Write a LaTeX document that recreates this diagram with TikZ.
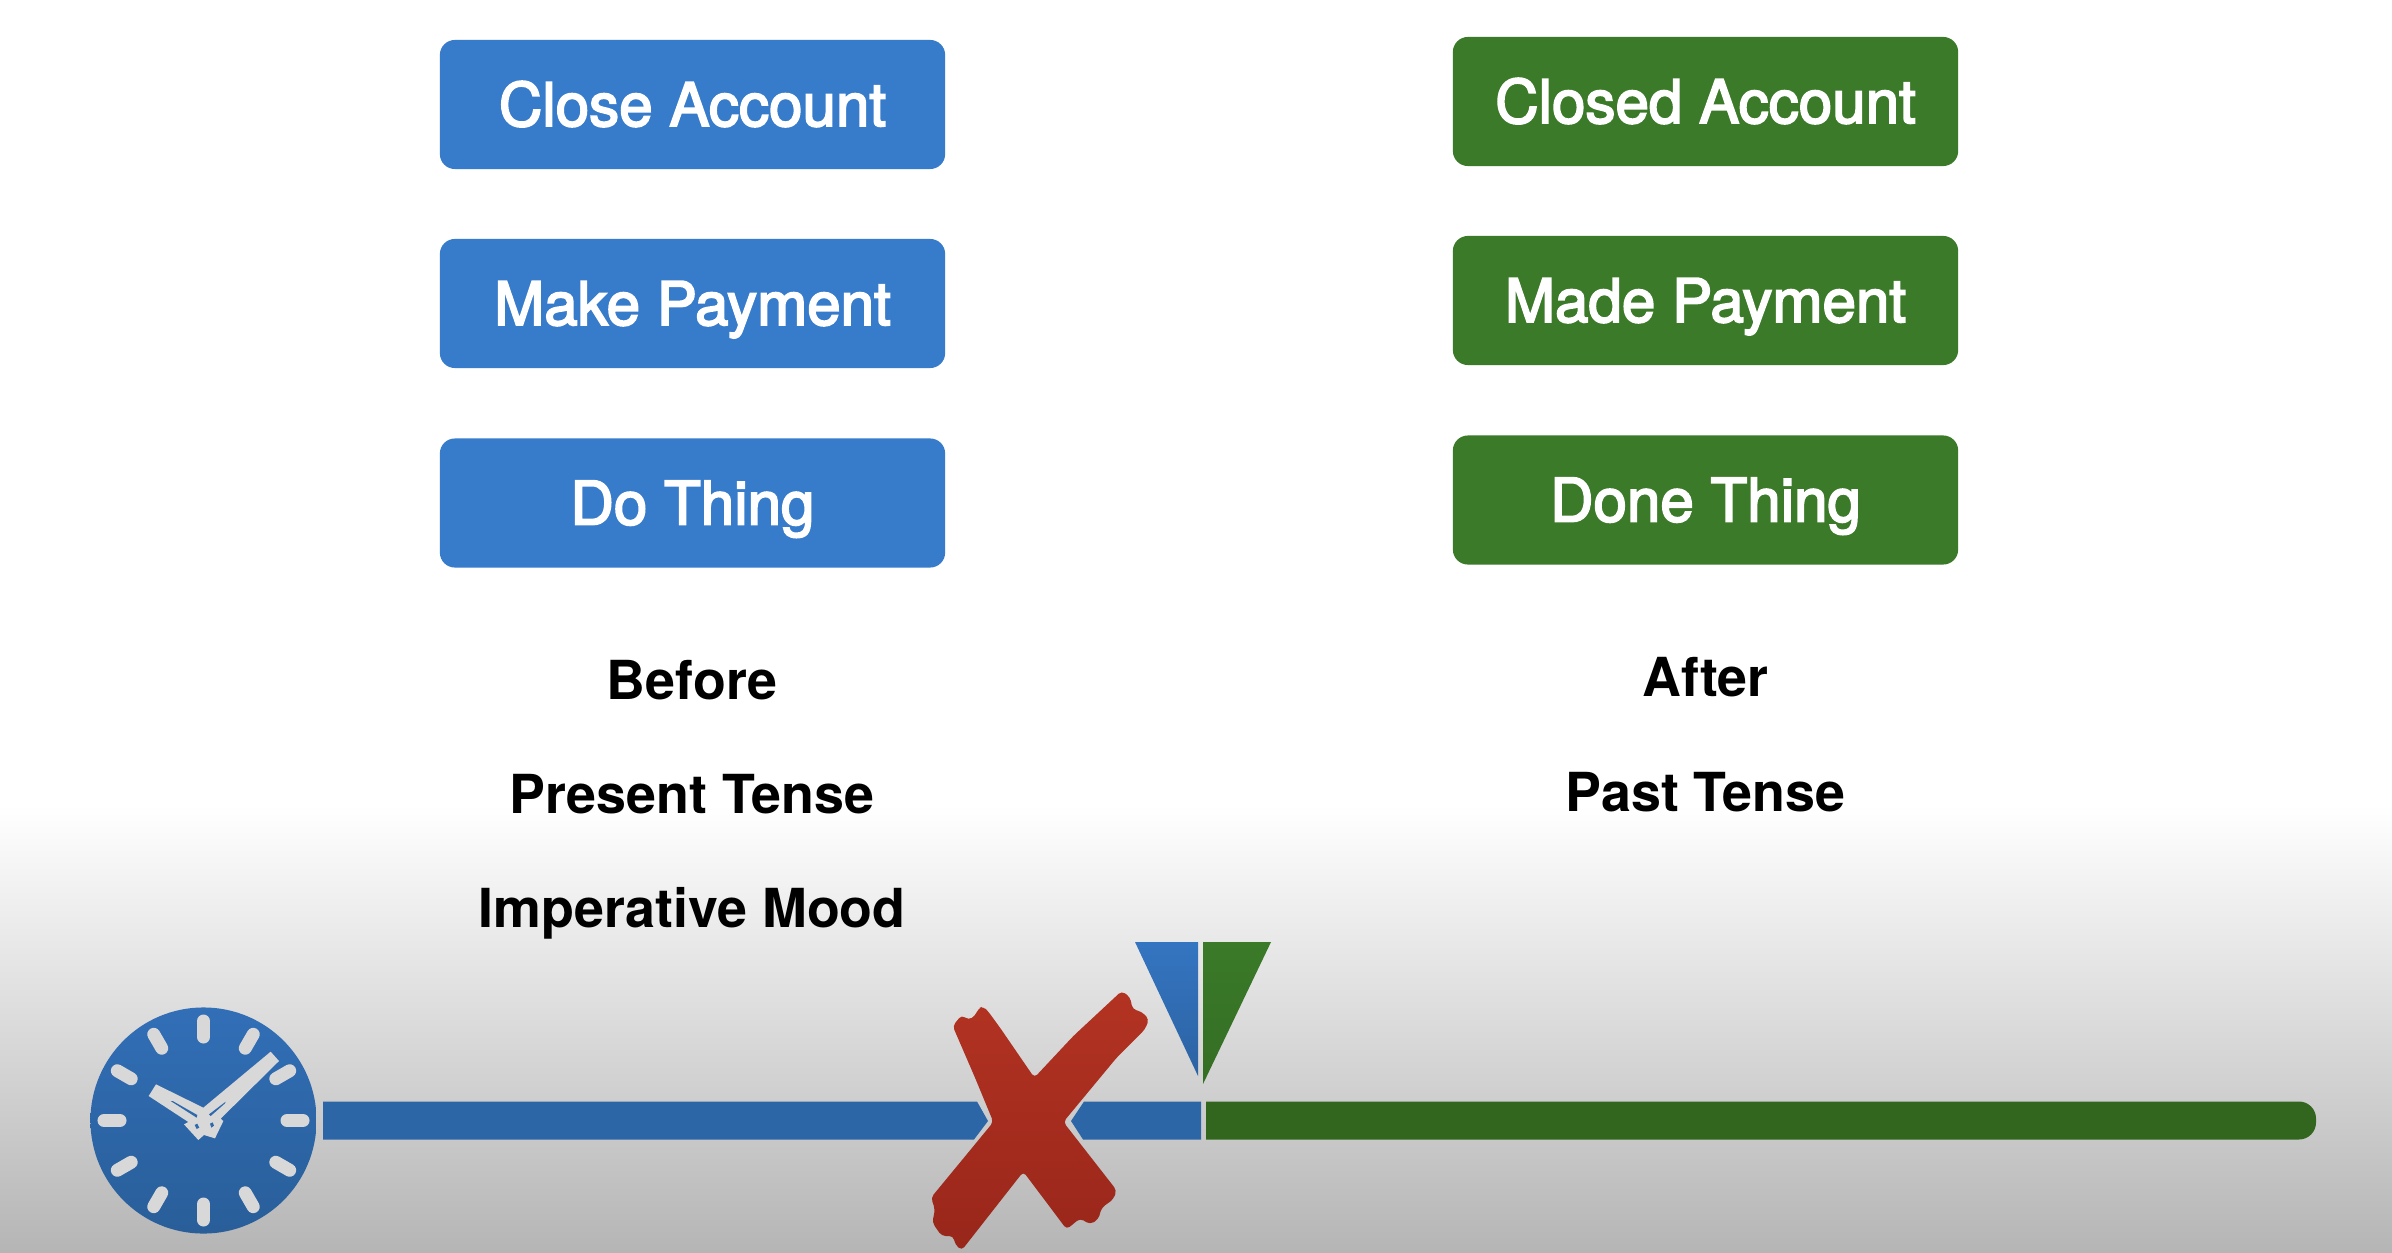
\documentclass[tikz,border=0pt]{standalone}
\usepackage{fontspec}
\setmainfont{TeX Gyre Heros}
\newfontfamily\boxfont{TeX Gyre Heros}[FakeBold=3]
\definecolor{actionblue}{HTML}{377BCB}
\definecolor{eventgreen}{HTML}{3A7A28}
\definecolor{linkblue}{HTML}{2C66A6}
\definecolor{linkgreen}{HTML}{32661E}
\definecolor{handgray}{HTML}{D8D8D8}
\definecolor{crosstop}{HTML}{B33322}
\definecolor{crossbottom}{HTML}{98261A}
\tikzset{
  namebox/.style={rectangle, rounded corners=1.5mm, minimum width=5.05cm, minimum height=1.29cm,
    inner sep=0pt, text=white, text height=0.43cm, text depth=0cm, font=\fontsize{17.1}{20}\boxfont},
  bluebox/.style={namebox, fill=actionblue},
  greenbox/.style={namebox, fill=eventgreen},
  tenselabel/.style={inner sep=0pt, text=black, text height=0.38cm, text depth=0cm,
    font=\fontsize{15.3}{18}\selectfont\bfseries},
  clocktick/.style={draw=handgray, line width=1.3mm, line cap=round}
}
\begin{document}
\begin{tikzpicture}[x=0.01cm, y=-0.01cm]
    \useasboundingbox (0,0) rectangle (2392,1252);
    \fill[white] (0,0) rectangle (2392,1252);
    \shade[top color=white, bottom color=black!29] (0,805) rectangle (2392,1252);

    \node[bluebox] (close) at (692.5,104.5) {Close Account};
    \node[bluebox] (make) at (692.5,303.5) {Make Payment};
    \node[bluebox] (do) at (692.5,503) {Do Thing};
    \node[greenbox] (closed) at (1705.5,101.5) {Closed Account};
    \node[greenbox] (made) at (1705.5,300.5) {Made Payment};
    \node[greenbox] (done) at (1705.5,500) {Done Thing};

    \node[tenselabel] (before) at (692,680) {Before};
    \node[tenselabel] (present) at (692,794) {Present Tense};
    \node[tenselabel] (imperative) at (692,908) {Imperative Mood};
    \node[tenselabel] (after) at (1705.5,677) {After};
    \node[tenselabel] (past) at (1705.5,792) {Past Tense};

    \fill[linkblue] (323,1101.5) -- (977,1101.5) -- (988,1121) -- (974,1139.5) -- (323,1139.5) -- cycle;
    \fill[linkblue] (1084,1101.5) -- (1201,1101.5) -- (1201,1139.5) -- (1083,1139.5) -- (1071,1121) -- cycle;
    \fill[linkgreen] (1206,1101.5) [rounded corners=1.7mm] -- (2316,1101.5) -- (2316,1139.5) [sharp corners] -- (1206,1139.5) -- cycle;

    \shade[top color=actionblue!95!black, bottom color=actionblue!80!black] (1135,942) -- (1198,942) -- (1198,1076) -- cycle;
    \shade[top color=eventgreen, bottom color=eventgreen!90!black] (1203,942) -- (1271,942) -- (1203,1084) -- cycle;

    \node[circle, minimum size=2.26cm, inner sep=0pt, top color=actionblue!90!black, bottom color=linkblue!92!black] (clock) at (203.5,1120.5) {};
    \foreach \a in {0,30,...,330}
      \draw[clocktick] ([shift={(\a:83.5)}]clock.center) -- ([shift={(\a:99.5)}]clock.center);

    \begin{scope}[shift={(60,981)}, x=0.01cm/3, y=-0.01cm/3]
      \fill[handgray] (288,310) -- (266,345) -- (385,423) -- (372,430) -- (415,477) -- (432,462) -- (465,472) -- (490,420) -- (482,413) -- (657,240) -- (632,212) -- (430,380) -- cycle;
      \fill[actionblue!85!black] (332,360) -- (410,410) -- (412,402) -- (338,360) -- cycle;
      \fill[actionblue!85!black] (497,362) -- (447,400) -- (452,405) -- (494,368) -- cycle;
      \fill[actionblue!85!black] (404,432) -- (412,428) -- (418,440) -- (410,444) -- cycle;
      \fill[actionblue!85!black] (450,428) -- (458,424) -- (462,434) -- (454,440) -- cycle;
    \end{scope}

    \begin{scope}[shift={(900,921)}, x=0.01cm/3, y=-0.01cm/3]
      \shade[top color=crosstop, bottom color=crossbottom, rounded corners=0.4mm]
        (158,315) -- (185,282) -- (205,297) -- (225,285) -- (235,262) -- (250,256) -- (265,272) -- (300,320) -- (403,470)
        -- (520,345) -- (665,210) -- (690,228) -- (698,265) -- (725,272) -- (747,295) -- (735,325) -- (650,410) -- (490,603)
        -- (650,808) -- (640,835) -- (605,860) -- (595,895) -- (570,910) -- (540,892) -- (500,925) -- (370,752)
        -- (185,988) -- (165,970) -- (160,945) -- (125,945) -- (97,905) -- (105,865) -- (93,830) -- (280,603)
        -- (225,470) -- cycle;
    \end{scope}
\end{tikzpicture}
\end{document}
